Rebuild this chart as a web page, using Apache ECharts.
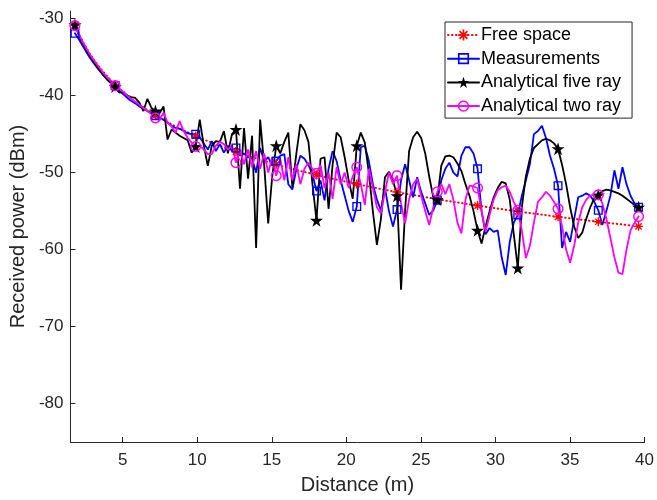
<!DOCTYPE html>
<html><head><meta charset="utf-8">
<script src="https://cdn.jsdelivr.net/npm/echarts@6/dist/echarts.min.js"></script>
<style>html,body{margin:0;padding:0;background:#fff}#c{width:657px;height:500px}</style>
</head><body><div id="c"></div>
<script>
const distance = [1.8,2.07,2.34,2.61,2.88,3.15,3.42,3.69,3.96,4.23,
4.5,4.77,5.04,5.31,5.58,5.85,6.12,6.39,6.66,6.93,
7.2,7.47,7.74,8.01,8.28,8.55,8.82,9.09,9.36,9.63,
9.9,10.17,10.44,10.71,10.98,11.25,11.52,11.79,12.06,12.33,
12.6,12.87,13.14,13.41,13.68,13.95,14.22,14.49,14.76,15.03,
15.3,15.57,15.84,16.11,16.38,16.65,16.92,17.19,17.46,17.73,
18.0,18.27,18.54,18.81,19.08,19.35,19.62,19.89,20.16,20.43,
20.7,20.97,21.24,21.51,21.78,22.05,22.32,22.59,22.86,23.13,
23.4,23.67,23.94,24.21,24.48,24.75,25.02,25.29,25.56,25.83,
26.1,26.37,26.64,26.91,27.18,27.45,27.72,27.99,28.26,28.53,
28.8,29.07,29.34,29.61,29.88,30.15,30.42,30.69,30.96,31.23,
31.5,31.77,32.04,32.31,32.58,32.85,33.12,33.39,33.66,33.93,
34.2,34.47,34.74,35.01,35.28,35.55,35.82,36.09,36.36,36.63,
36.9,37.17,37.44,37.71,37.98,38.25,38.52,38.79,39.06,39.33,
39.6];

const freeSpace = [-30.8,-31.98,-33.02,-33.95,-34.78,-35.54,-36.24,-36.88,-37.48,-38.04,
-38.56,-39.05,-39.52,-39.96,-40.38,-40.78,-41.16,-41.53,-41.88,-42.22,
-42.54,-42.85,-43.15,-43.44,-43.72,-44.0,-44.26,-44.51,-44.76,-45.0,
-45.24,-45.46,-45.69,-45.9,-46.11,-46.32,-46.52,-46.72,-46.91,-47.1,
-47.28,-47.46,-47.63,-47.81,-47.98,-48.14,-48.3,-48.46,-48.62,-48.77,
-48.92,-49.07,-49.22,-49.36,-49.5,-49.64,-49.78,-49.91,-50.04,-50.17,
-50.3,-50.43,-50.55,-50.67,-50.79,-50.91,-51.03,-51.15,-51.26,-51.37,
-51.48,-51.59,-51.7,-51.81,-51.91,-52.02,-52.12,-52.22,-52.32,-52.42,
-52.52,-52.62,-52.72,-52.81,-52.9,-53.0,-53.09,-53.18,-53.27,-53.36,
-53.45,-53.53,-53.62,-53.71,-53.79,-53.87,-53.96,-54.04,-54.12,-54.2,
-54.28,-54.36,-54.44,-54.52,-54.59,-54.67,-54.74,-54.82,-54.89,-54.97,
-55.04,-55.11,-55.18,-55.25,-55.32,-55.39,-55.46,-55.53,-55.6,-55.67,
-55.74,-55.8,-55.87,-55.93,-56.0,-56.06,-56.13,-56.19,-56.26,-56.32,
-56.38,-56.44,-56.5,-56.56,-56.62,-56.68,-56.74,-56.8,-56.86,-56.92,
-56.98];

const measurements = [-31.9,-32.7,-33.6,-34.5,-35.3,-36.0,-36.7,-37.3,-37.9,-38.4,
-38.7,-39.4,-39.8,-40.3,-40.7,-41.0,-41.4,-41.7,-42.0,-42.3,
-42.6,-42.9,-43.1,-43.5,-43.9,-44.2,-44.3,-44.6,-44.9,-45.0,
-45.0,-45.4,-46.2,-47.0,-45.9,-47.2,-46.3,-47.4,-46.5,-47.2,
-46.8,-47.8,-47.5,-48.0,-48.2,-50.0,-46.8,-48.5,-48.0,-49.1,
-48.5,-47.8,-47.6,-51.5,-52.2,-49.5,-47.8,-48.2,-49.0,-50.2,
-52.4,-51.0,-53.6,-49.5,-47.2,-48.5,-51.0,-53.0,-55.0,-56.4,
-54.4,-46.7,-46.5,-48.5,-51.5,-53.5,-54.9,-52.0,-55.0,-57.0,
-54.8,-51.0,-48.9,-51.0,-53.2,-50.6,-52.5,-54.0,-55.5,-54.9,
-53.6,-51.0,-49.5,-48.7,-50.0,-50.5,-47.8,-46.7,-46.7,-47.5,
-49.5,-55.0,-58.0,-57.2,-57.7,-57.5,-61.0,-63.3,-59.0,-56.5,
-55.5,-53.0,-51.0,-48.9,-45.0,-44.6,-43.9,-45.5,-47.8,-49.5,
-51.7,-59.8,-57.7,-59.0,-56.0,-53.2,-53.0,-52.7,-53.0,-53.8,
-54.9,-56.8,-55.0,-53.0,-49.7,-52.1,-49.3,-51.5,-53.0,-54.0,
-54.5];

const fiveRay = [-30.8,-32.2,-33.3,-34.3,-35.1,-35.9,-36.6,-37.3,-37.9,-38.4,
-38.8,-39.6,-39.5,-40.0,-40.2,-40.3,-40.9,-42.0,-40.4,-41.6,
-42.0,-42.3,-41.4,-45.7,-44.4,-44.8,-45.2,-45.5,-45.8,-47.4,
-46.6,-43.1,-46.5,-49.1,-46.5,-45.9,-46.0,-44.6,-47.5,-45.0,
-44.4,-52.1,-44.2,-50.8,-45.2,-59.8,-43.1,-49.0,-56.6,-50.5,
-46.5,-47.5,-46.0,-44.8,-51.9,-47.5,-43.7,-44.5,-46.0,-51.5,
-56.2,-48.2,-48.0,-54.7,-49.0,-44.8,-45.4,-48.0,-51.0,-53.4,
-46.5,-44.8,-46.1,-50.0,-55.0,-59.4,-56.0,-50.6,-49.9,-51.0,
-53.0,-65.2,-55.0,-47.2,-45.4,-44.7,-45.5,-47.5,-50.5,-53.2,
-53.5,-49.1,-47.9,-47.8,-48.0,-48.8,-49.8,-51.5,-53.0,-55.0,
-57.5,-59.2,-57.0,-55.0,-53.2,-52.0,-51.2,-51.4,-53.5,-58.0,
-62.4,-54.5,-50.5,-48.2,-46.8,-46.3,-45.8,-45.6,-45.8,-46.2,
-46.9,-49.0,-51.5,-54.5,-57.0,-58.5,-57.8,-56.0,-54.5,-53.3,
-52.9,-52.4,-52.2,-52.3,-52.5,-52.7,-53.0,-53.4,-53.8,-54.2,
-54.5];

const twoRay = [-30.9,-32.0,-33.1,-34.0,-34.9,-35.6,-36.3,-37.0,-37.6,-38.1,
-38.7,-39.1,-39.5,-40.0,-40.4,-40.8,-41.2,-41.6,-42.0,-42.4,
-42.9,-43.2,-42.2,-43.5,-44.0,-44.8,-43.3,-44.6,-45.5,-46.1,
-46.6,-46.5,-47.0,-47.6,-47.6,-46.5,-46.0,-46.3,-47.0,-46.5,
-48.7,-47.0,-48.9,-47.0,-49.3,-47.2,-49.5,-47.5,-50.0,-48.0,
-50.4,-48.2,-51.0,-48.0,-51.0,-48.9,-51.5,-49.5,-48.7,-49.5,
-50.1,-49.0,-52.0,-50.0,-53.4,-49.3,-51.5,-50.0,-52.0,-50.5,
-49.3,-51.5,-54.2,-49.5,-52.0,-54.5,-55.3,-52.5,-50.0,-51.5,
-50.4,-54.0,-56.6,-53.5,-51.5,-50.8,-53.0,-55.0,-56.8,-54.5,
-52.5,-51.5,-52.8,-51.5,-53.5,-56.5,-57.9,-53.5,-51.7,-51.8,
-52.0,-55.0,-57.7,-55.5,-53.5,-52.3,-51.9,-51.7,-52.5,-53.8,
-54.9,-57.5,-61.1,-59.5,-56.5,-53.8,-53.2,-52.5,-53.0,-53.8,
-54.7,-57.0,-60.0,-61.7,-59.5,-56.5,-54.5,-53.5,-53.0,-52.9,
-52.9,-54.0,-56.0,-58.5,-61.0,-63.0,-63.2,-60.0,-57.5,-56.5,
-55.7];

const seriesNames = ['Free space', 'Measurements', 'Analytical five ray', 'Analytical two ray'];
const xTicks = [5, 10, 15, 20, 25, 30, 35, 40];
const yTicks = [-80, -70, -60, -50, -40, -30];
const markerEvery = 10;

// marker shapes (geometry only)
function ringPath(r) {
  const n = 32; let s = 'path://';
  for (let k = 0; k < n; k++) { const a = 2 * Math.PI * k / n; s += (k ? 'L' : 'M') + Math.cos(a).toFixed(4) + ',' + Math.sin(a).toFixed(4); }
  s += 'Z';
  for (let k = 0; k < n; k++) { const a = -2 * Math.PI * k / n; s += (k ? 'L' : 'M') + (r * Math.cos(a)).toFixed(4) + ',' + (r * Math.sin(a)).toFixed(4); }
  return s + 'Z';
}
const asteriskPath = 'path://M-1,-0.15L1,-0.15L1,0.15L-1,0.15ZM-0.15,-1L0.15,-1L0.15,1L-0.15,1ZM-0.8,-0.59L-0.59,-0.8L0.8,0.59L0.59,0.8ZM-0.8,0.59L0.59,-0.8L0.8,-0.59L-0.59,0.8Z';
const squarePath = 'path://M-1,-1L1,-1L1,1L-1,1ZM-0.7,-0.7L-0.7,0.7L0.7,0.7L0.7,-0.7Z';
const starPath = 'path://M0,-1L0.2245,-0.309L0.951,-0.309L0.363,0.118L0.588,0.809L0,0.382L-0.588,0.809L-0.363,0.118L-0.951,-0.309L-0.2245,-0.309Z';
const circlePath = ringPath(0.74);

function pairs(ys) { return distance.map((d, i) => [d, ys[i]]); }
function markSize(s) { return function (v, p) { return p.dataIndex % markerEvery === 0 ? s : 0; }; }

const FONT = '"Liberation Sans", Arial, Helvetica, sans-serif';
const AX = '#262626';

function mk(name, ys, color, sym, size, lineType, lw) {
  return {
    name: name, type: 'line', data: pairs(ys),
    symbol: sym, symbolSize: markSize(size), symbolKeepAspect: false,
    showAllSymbol: true,
    itemStyle: { color: color, borderWidth: 0 },
    lineStyle: { color: color, width: lw, type: lineType, cap: 'round' },
    emphasis: { disabled: true }, silent: true, animation: false
  };
}

const chart = echarts.init(document.getElementById('c'), null, { renderer: 'canvas' });
chart.setOption({
  backgroundColor: '#fff',
  animation: false,
  grid: { left: 69, right: 12, top: 11, bottom: 54, containLabel: false },
  legend: {
    orient: 'vertical', left: 445, top: 22,
    padding: [4, 11, 3, 2], itemGap: 5.7, itemWidth: 31, itemHeight: 14,
    borderColor: AX, borderWidth: 1, backgroundColor: '#fff',
    textStyle: { fontFamily: FONT, fontSize: 18, color: '#000', padding: [0, 0, 0, -3] },
    data: seriesNames
  },
  xAxis: {
    type: 'value', min: 1.5, max: 40,
    name: 'Distance (m)', nameLocation: 'middle', nameGap: 33,
    nameTextStyle: { fontFamily: FONT, fontSize: 20, color: AX },
    axisLine: { onZero: false, lineStyle: { color: AX, width: 1 } },
    axisTick: { inside: true, length: 5, customValues: xTicks, lineStyle: { color: AX } },
    axisLabel: { customValues: xTicks, fontFamily: FONT, fontSize: 17, color: AX, margin: 10 },
    splitLine: { show: false }
  },
  yAxis: {
    type: 'value', min: -85, max: -29,
    name: 'Received power (dBm)', nameLocation: 'middle', nameGap: 37,
    nameTextStyle: { fontFamily: FONT, fontSize: 20, color: AX },
    axisLine: { onZero: false, lineStyle: { color: AX, width: 1 } },
    axisTick: { inside: true, length: 5, customValues: yTicks, lineStyle: { color: AX } },
    axisLabel: { customValues: yTicks, fontFamily: FONT, fontSize: 17, color: AX, margin: 7 },
    splitLine: { show: false }
  },
  series: [
    mk(seriesNames[0], freeSpace, '#ff0000', asteriskPath, 9, [0.5, 3.5], 2),
    mk(seriesNames[1], measurements, '#0000ff', squarePath, 9, 'solid', 1.8),
    mk(seriesNames[2], fiveRay, '#000000', starPath, 13, 'solid', 1.8),
    mk(seriesNames[3], twoRay, '#ff00ff', circlePath, 11, 'solid', 1.8)
  ]
});
</script>
</body></html>
